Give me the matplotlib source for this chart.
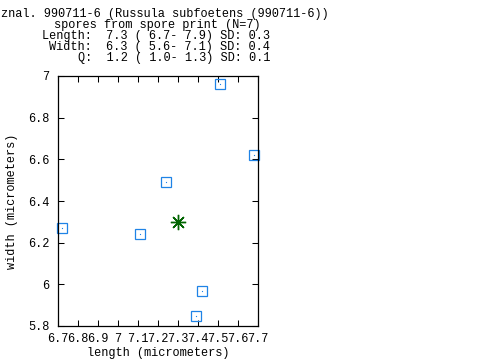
import matplotlib
matplotlib.use("Agg")
import matplotlib.pyplot as plt
from matplotlib.ticker import FuncFormatter

# data
lengths = [7.51, 7.68, 7.24, 6.72, 7.11, 7.42, 7.39]
widths = [6.96, 6.62, 6.49, 6.27, 6.24, 5.97, 5.85]
mean_length = 7.30
mean_width = 6.30
x_ticks = [6.7, 6.8, 6.9, 7.0, 7.1, 7.2, 7.3, 7.4, 7.5, 7.6, 7.7]
y_ticks = [5.8, 6.0, 6.2, 6.4, 6.6, 6.8, 7.0]
title_lines = [
    "spores from spore print (N=7)",
]
stats_lines = [
    "Length:  7.3 ( 6.7- 7.9) SD: 0.3",
    "Width:  6.3 ( 5.6- 7.1) SD: 0.4",
    "Q:  1.2 ( 1.0- 1.3) SD: 0.1",
]
header = "znal. 990711-6 (Russula subfoetens (990711-6))"

plt.rcParams['font.family'] = ['Liberation Mono', 'DejaVu Sans Mono']
fs = 8.6
blue = '#1f83e6'
green = '#006400'

fig = plt.figure(figsize=(4.8, 3.6), dpi=100)
ax = fig.add_axes([58/480, 34/360, 200/480, 250/360])

ax.plot(lengths, widths, linestyle='none', marker='s', markersize=7.2,
        markerfacecolor='none', markeredgecolor=blue, markeredgewidth=0.9, clip_on=False)
ax.plot(lengths, widths, linestyle='none', marker='s', markersize=0.8,
        markerfacecolor=blue, markeredgecolor=blue, markeredgewidth=0, clip_on=False)
ax.plot([mean_length], [mean_width], linestyle='none', marker=(8, 2, 0), markersize=11,
        markeredgecolor=green, markeredgewidth=1.0, color=green)

ax.set_xlim(6.7, 7.7)
ax.set_ylim(5.8, 7.0)
ax.set_xticks(x_ticks)
ax.set_yticks(y_ticks)
ax.xaxis.set_major_formatter(FuncFormatter(lambda v, p: '%g' % round(v, 2)))
ax.yaxis.set_major_formatter(FuncFormatter(lambda v, p: '%g' % round(v, 2)))
ax.tick_params(direction='in', length=4.3, width=0.75, top=True, right=True,
               labelsize=fs, colors='black')
ax.tick_params(axis='x', pad=5)
ax.tick_params(axis='y', pad=6)
for s in ax.spines.values():
    s.set_linewidth(0.9)

ax.set_xlabel("length (micrometers)", fontsize=fs, va='center', ha='center')
ax.set_ylabel("width (micrometers)", fontsize=fs, va='center', ha='center')
ax.xaxis.set_label_coords(0.5, (326 - 353) / 250)
ax.yaxis.set_label_coords((12 - 58) / 200, 0.5)

fig.text(1/480, 1 - 14/360, header, fontsize=fs, ha='left', va='center')
fig.text(157/480, 1 - 25/360, title_lines[0], fontsize=fs, ha='center', va='center')
for i, line in enumerate(stats_lines):
    fig.text(270/480, 1 - (36 + 11*i)/360, line, fontsize=fs, ha='right', va='center')

fig.savefig("out.png", dpi=100)
